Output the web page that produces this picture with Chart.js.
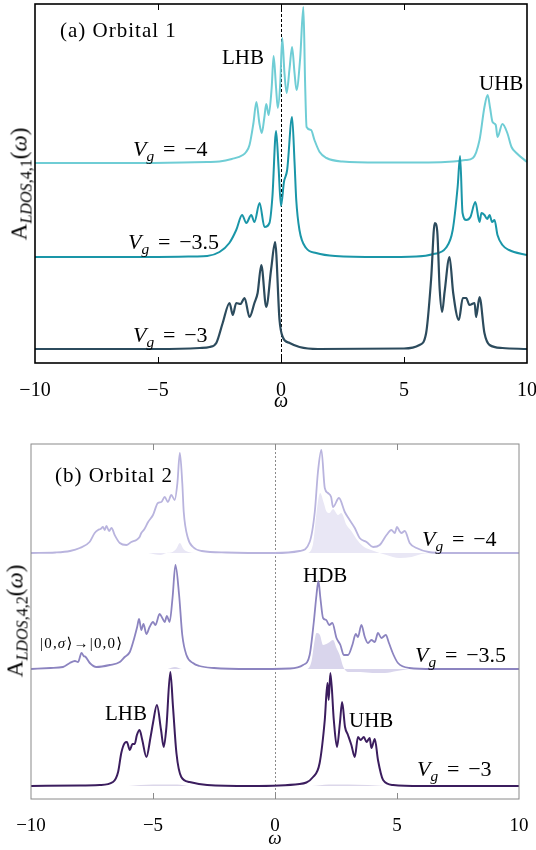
<!DOCTYPE html>
<html lang="en">
<head>
<meta charset="UTF-8">
<title>LDOS orbital 1 / orbital 2</title>
<script src="https://cdn.jsdelivr.net/npm/chart.js"></script>
<style>
    body { margin: 0; background: #fff; }
    #page { position: relative; width: 536px; height: 850px; overflow: hidden;
            font-family: "Liberation Serif", "DejaVu Serif", serif; color: #000; }
    canvas { position: absolute; left: 0; }
    #chartTop { top: 0; }
    #chartBottom { top: 430px; }
    .lab { position: absolute; white-space: nowrap; line-height: 1; font-size: 21px; }
    .vg { font-size: 22px; }
    .vg .eq { margin: 0 0.4em; }
    .ket { font-size: 15px; letter-spacing: 1.2px; }
    sub { font-size: 0.7em; line-height: 0; vertical-align: -0.3em; }
    .ylab { position: absolute; white-space: nowrap; line-height: 1; font-size: 23px;
            transform: translate(-50%, -50%) rotate(-90deg); }
</style>
</head>
<body>
<div id="page">
    <canvas id="chartTop" width="536" height="414"></canvas>
    <canvas id="chartBottom" width="536" height="420"></canvas>

    <!-- panel (a) -->
    <div class="lab" style="left:60px; top:20px; letter-spacing:1px;">(a) Orbital 1</div>
    <div class="lab" style="left:222px; top:47px;">LHB</div>
    <div class="lab" style="left:479px; top:73px;">UHB</div>
    <div class="lab vg" style="left:133px; top:137.6px;"><i>V</i><sub><i>g</i></sub><span class="eq">=</span>−4</div>
    <div class="lab vg" style="left:128px; top:230.6px;"><i>V</i><sub><i>g</i></sub><span class="eq">=</span>−3.5</div>
    <div class="lab vg" style="left:133px; top:323.6px;"><i>V</i><sub><i>g</i></sub><span class="eq">=</span>−3</div>
    <div class="ylab" style="left:19px; top:184px;">A<sub><i>LDOS</i>,4,1</sub>(<i>ω</i>)</div>

    <!-- panel (b) -->
    <div class="lab" style="left:55px; top:464.5px; letter-spacing:1px;">(b) Orbital 2</div>
    <div class="lab vg" style="left:422px; top:528.3px;"><i>V</i><sub><i>g</i></sub><span class="eq">=</span>−4</div>
    <div class="lab" style="left:303px; top:565px;">HDB</div>
    <div class="lab ket" style="left:40px; top:635.5px;">|0,<i>σ</i>⟩→|0,0⟩</div>
    <div class="lab vg" style="left:415px; top:644.3px;"><i>V</i><sub><i>g</i></sub><span class="eq">=</span>−3.5</div>
    <div class="lab" style="left:105px; top:703.4px;">LHB</div>
    <div class="lab" style="left:349px; top:709.5px;">UHB</div>
    <div class="lab vg" style="left:417px; top:758.3px;"><i>V</i><sub><i>g</i></sub><span class="eq">=</span>−3</div>
    <div class="ylab" style="left:15px; top:621px;">A<sub><i>LDOS</i>,4,2</sub>(<i>ω</i>)</div>
</div>

<script>
    // ---- dados (unidades arbitrarias) ----
    const xTicks = [-10, -5, 0, 5, 10];

    // painel (a) Orbital 1
    const offsetsA = [200, 106, 14];          // deslocamento vertical de cada curva (Vg = -4, -3.5, -3)
    const wA4 = [-10, -6, -4, -3, -2.5, -2.0, -1.55, -1.42, -1.28, -1.12, -1.0, -0.88, -0.78, -0.68, -0.6, -0.5, -0.38, -0.3, -0.2, -0.13, -0.03, 0.05, 0.14, 0.23, 0.35, 0.45, 0.55, 0.63, 0.78, 0.91, 0.98, 1.04, 1.22, 1.36, 1.57, 1.85, 2.5, 4, 6, 7, 7.5, 7.8, 8.07, 8.27, 8.4, 8.5, 8.6, 8.73, 8.8, 9.0, 9.2, 9.37, 9.57, 10];
    const ldosA4 = [0, 0, 0.5, 1, 1.5, 4, 8, 11, 18, 40, 61, 40, 30, 45, 59, 48, 75, 107, 75, 55, 80, 125, 90, 70, 95, 116, 90, 73, 105, 156, 80, 36, 33, 23, 11, 5, 1.5, 0.5, 0.5, 1.5, 3, 5, 23, 56, 68, 55, 41, 38, 26, 39, 30, 16, 10, 1];

    const wA35 = [-10, -5, -3.5, -3.0, -2.5, -2.1, -1.82, -1.58, -1.41, -1.21, -1.08, -0.87, -0.67, -0.47, -0.35, -0.2, -0.1, 0.0, 0.12, 0.25, 0.45, 0.55, 0.62, 0.75, 1.02, 1.43, 2.2, 4, 5.5, 6.2, 6.7, 6.98, 7.18, 7.28, 7.38, 7.53, 7.7, 7.9, 8.07, 8.15, 8.27, 8.38, 8.48, 8.58, 8.68, 8.8, 9.0, 9.27, 10];
    const ldosA35 = [0, 0, 0.5, 1, 5, 14, 27, 42, 34, 42, 35, 54, 30, 34, 60, 126, 90, 51, 75, 87, 140, 95, 57, 27, 9, 4, 1, 0, 0.5, 3, 9, 27, 70, 101, 44, 37, 40, 55, 35, 44, 42, 38, 42, 35, 37, 22, 12, 7, 2];

    const wA3 = [-10, -5, -3.3, -2.9, -2.63, -2.37, -2.09, -1.96, -1.82, -1.65, -1.48, -1.28, -1.08, -0.95, -0.8, -0.6, -0.4, -0.24, -0.06, 0.07, 0.35, 0.75, 1.5, 5.0, 5.63, 5.9, 6.1, 6.25, 6.35, 6.45, 6.55, 6.65, 6.85, 7.0, 7.23, 7.39, 7.53, 7.66, 7.87, 7.93, 8.07, 8.27, 8.48, 9.0, 10];
    const ldosA3 = [0, 0, 1, 2, 6, 26, 46, 34, 46, 45, 51, 32, 46, 56, 84, 42, 80, 107, 29, 12, 6, 2, 0, 0.5, 4, 16, 69, 126, 118, 60, 37, 57, 92, 56, 29, 51, 51, 44, 46, 32, 52, 16, 4, 1, 0];

    // painel (b) Orbital 2
    const offsetsB = [246, 130, 13];
    const wB4 = [-10, -9, -8.4, -8.0, -7.6, -7.39, -7.25, -7.15, -7.05, -6.98, -6.91, -6.8, -6.7, -6.57, -6.36, -6.09, -5.89, -5.68, -5.55, -5.48, -5.35, -5.2, -5.0, -4.8, -4.66, -4.52, -4.39, -4.25, -4.11, -4.0, -3.9, -3.8, -3.74, -3.57, -3.36, -3.0, -2.0, 0, 1.01, 1.42, 1.63, 1.76, 1.9, 2.04, 2.17, 2.3, 2.38, 2.62, 2.86, 3.06, 3.27, 3.47, 3.75, 4.02, 4.29, 4.57, 4.77, 4.91, 5.0, 5.1, 5.18, 5.32, 5.52, 5.8, 6.3, 7, 10];
    const ldosB4 = [0, 0.5, 2, 5, 11, 20, 23, 24, 26, 23, 27, 22, 25, 18, 10, 8, 11, 13, 16, 20, 24, 31, 38, 50, 51, 56, 51, 58, 53, 70, 100, 70, 41, 15, 6, 2, 0.5, 0, 2, 11, 41, 81, 103, 65, 60, 56, 46, 55, 41, 33, 25, 15, 11, 6, 8, 18, 23, 20, 26, 22, 20, 22, 10, 5, 1, 0, 0];
    const wB4fill = [-5.2, -4.7, -4.45, -4.2, -4.05, -3.9, -3.75, -3.55, -3.3, 1.3, 1.55, 1.7, 1.85, 2.0, 2.1, 2.23, 2.38, 2.58, 2.72, 2.93, 3.13, 3.34, 3.6, 3.94, 4.29, 4.57, 5.1, 5.6, 6.0, 6.5];
    const partB4fill = [0, -2, 0, 1, 4, 10, 4, 1, 0, 0, 8, 40, 60, 50, 42, 40, 44, 38, 40, 28, 22, 14, 7, 3, 0, -2, -5, -4, -1, 0];

    const wB35 = [-10, -9.2, -8.69, -8.41, -8.2, -8.07, -7.93, -7.84, -7.76, -7.59, -7.32, -6.77, -6.36, -6.16, -5.95, -5.79, -5.65, -5.57, -5.48, -5.39, -5.27, -5.14, -5.0, -4.9, -4.73, -4.62, -4.52, -4.43, -4.32, -4.2, -4.08, -3.93, -3.8, -3.63, -3.36, -3.1, -2.5, -1, 0.6, 1.15, 1.42, 1.59, 1.7, 1.78, 1.86, 1.97, 2.1, 2.22, 2.35, 2.52, 2.68, 2.82, 2.99, 3.17, 3.31, 3.4, 3.54, 3.68, 3.81, 3.95, 4.09, 4.22, 4.36, 4.54, 4.67, 4.86, 5.04, 5.5, 6.5, 10];
    const ldosB35 = [0, 1, 2, 6, 8, 7, 16, 13, 12, 6, 2, 4, 7, 12, 17, 29, 42, 50, 39, 45, 35, 42, 47, 44, 55, 51, 47, 53, 47, 71, 104, 74, 34, 14, 6, 3, 1, 0, 0.5, 4, 14, 47, 74, 88, 71, 51, 49, 44, 46, 31, 24, 14, 14, 24, 35, 32, 44, 32, 26, 29, 27, 36, 31, 34, 26, 14, 6, 1, 0, 0];
    const wB35fill = [-4.4, -4.1, -3.8, 1.3, 1.5, 1.62, 1.7, 1.84, 1.97, 2.18, 2.38, 2.52, 2.65, 2.8, 3.0, 3.5, 4.0, 4.5, 5.0, 5.5];
    const partB35fill = [0, 2, 0, 0, 8, 28, 36, 34, 24, 26, 29, 21, 14, 2, -3, -3, -4, -4, -2, 0];

    const wB3 = [-10, -8, -7.18, -6.64, -6.43, -6.3, -6.16, -6.07, -5.95, -5.84, -5.75, -5.66, -5.55, -5.44, -5.27, -5.1, -5.0, -4.84, -4.67, -4.56, -4.45, -4.29, -4.18, -4.04, -3.84, -3.5, -2.78, -1, 1.01, 1.56, 1.83, 2.04, 2.15, 2.2, 2.27, 2.41, 2.54, 2.66, 2.75, 2.87, 2.99, 3.13, 3.27, 3.4, 3.51, 3.64, 3.75, 3.88, 3.95, 4.09, 4.22, 4.43, 4.84, 6, 10];
    const ldosB3 = [0, 0.5, 1, 4, 14, 33, 43, 44, 36, 42, 42, 51, 56, 46, 29, 49, 63, 81, 56, 39, 59, 114, 79, 33, 9, 4, 1, 0, 2, 9, 23, 66, 103, 86, 113, 66, 39, 63, 84, 59, 51, 41, 29, 49, 46, 49, 44, 48, 38, 47, 26, 6, 1, 0, 0];
    const wB3fill = [-6, -5, -4, -3.5, 1.5, 2.2, 3, 3.8, 4.5];
    const partB3fill = [0, 1.5, 1.5, 0, 0, 1.5, 1.5, 1, 0];

    const FONT = '"Liberation Serif", "DejaVu Serif", serif';

    function pontos(w, a, off) {
        return w.map((v, i) => ({ x: v, y: off + a[i] }));
    }

    function curva(w, a, off, cor, larg, ordem) {
        return { data: pontos(w, a, off), borderColor: cor, borderWidth: larg,
                 fill: false, order: ordem };
    }

    function area(w, a, off, cor) {
        return { data: pontos(w, a, off), borderWidth: 0, borderColor: 'rgba(0,0,0,0)',
                 backgroundColor: cor, fill: { value: off }, order: 10 };
    }

    // moldura, ticks para dentro e linha pontilhada em omega = 0
    const moldura = {
        id: 'moldura',
        beforeDatasetsDraw(chart, args, opts) {
            const { ctx, chartArea: a, scales } = chart;
            const x0 = Math.round(scales.x.getPixelForValue(0)) + 0.5;
            ctx.save();
            ctx.strokeStyle = opts.zeroColor;
            ctx.lineWidth = 1;
            ctx.setLineDash(opts.dash);
            ctx.beginPath();
            ctx.moveTo(x0, a.top);
            ctx.lineTo(x0, a.bottom);
            ctx.stroke();
            ctx.restore();
        },
        afterDatasetsDraw(chart, args, opts) {
            const { ctx, chartArea: a, scales } = chart;
            ctx.save();
            ctx.strokeStyle = opts.color;
            ctx.lineWidth = opts.width;
            ctx.strokeRect(a.left, a.top, a.right - a.left, a.bottom - a.top);
            ctx.lineWidth = 1;
            scales.x.ticks.forEach(t => {
                if (t.value <= scales.x.min || t.value >= scales.x.max) return;
                const px = Math.round(scales.x.getPixelForValue(t.value)) + 0.5;
                ctx.beginPath();
                ctx.moveTo(px, a.top);
                ctx.lineTo(px, a.top + opts.tick);
                ctx.moveTo(px, a.bottom);
                ctx.lineTo(px, a.bottom - opts.tick);
                ctx.stroke();
            });
            ctx.restore();
        }
    };

    function opcoes(pad, yMax, axisH, fontSize, look) {
        return {
            responsive: false,
            animation: false,
            layout: { padding: pad },
            plugins: { legend: { display: false }, tooltip: { enabled: false }, moldura: look },
            elements: { point: { radius: 0 }, line: { cubicInterpolationMode: 'monotone' } },
            scales: {
                x: {
                    type: 'linear', min: xTicks[0], max: xTicks[xTicks.length - 1],
                    grid: { display: false }, border: { display: false },
                    afterBuildTicks: s => { s.ticks = xTicks.map(v => ({ value: v })); },
                    ticks: {
                        padding: 8, color: '#000', maxRotation: 0,
                        font: { family: FONT, size: fontSize },
                        callback: v => (v < 0 ? '\u2212' + Math.abs(v) : '' + v)
                    },
                    title: { display: true, text: 'ω', color: '#000', padding: 0,
                             font: { family: FONT, size: fontSize, style: 'italic' } },
                    // altura fixa do eixo e sem margem extra para o rotulo "10"
                    afterFit: s => { s.height = axisH; s.paddingLeft = 0; s.paddingRight = 0; }
                },
                y: { display: false, min: 0, max: yMax }
            }
        };
    }

    new Chart(document.getElementById('chartTop'), {
        type: 'line',
        data: {
            datasets: [
                curva(wA4, ldosA4, offsetsA[0], '#6fcdd5', 2, 2),
                curva(wA35, ldosA35, offsetsA[1], '#1a96a8', 2, 1),
                curva(wA3, ldosA3, offsetsA[2], '#2c4b5d', 2.2, 0)
            ]
        },
        options: opcoes({ left: 35, right: 9, top: 4, bottom: 0 }, 359, 51, 20,
            { color: '#000', width: 1.6, tick: 6, zeroColor: '#000', dash: [3, 2] }),
        plugins: [moldura]
    });

    new Chart(document.getElementById('chartBottom'), {
        type: 'line',
        data: {
            datasets: [
                area(wB4fill, partB4fill, offsetsB[0], '#e9e7f5'),
                area(wB35fill, partB35fill, offsetsB[1], '#d9d5ec'),
                area(wB3fill, partB3fill, offsetsB[2], '#dcd7ea'),
                curva(wB4, ldosB4, offsetsB[0], '#b9b4de', 1.8, 2),
                curva(wB35, ldosB35, offsetsB[1], '#8c84c0', 1.8, 1),
                curva(wB3, ldosB3, offsetsB[2], '#3b1d5e', 2, 0)
            ]
        },
        options: opcoes({ left: 31, right: 17, top: 14, bottom: 0 }, 355, 51, 19,
            { color: '#8a8a8a', width: 1, tick: 6, zeroColor: '#8a8a8a', dash: [2, 2] }),
        plugins: [moldura]
    });
</script>
</body>
</html>
